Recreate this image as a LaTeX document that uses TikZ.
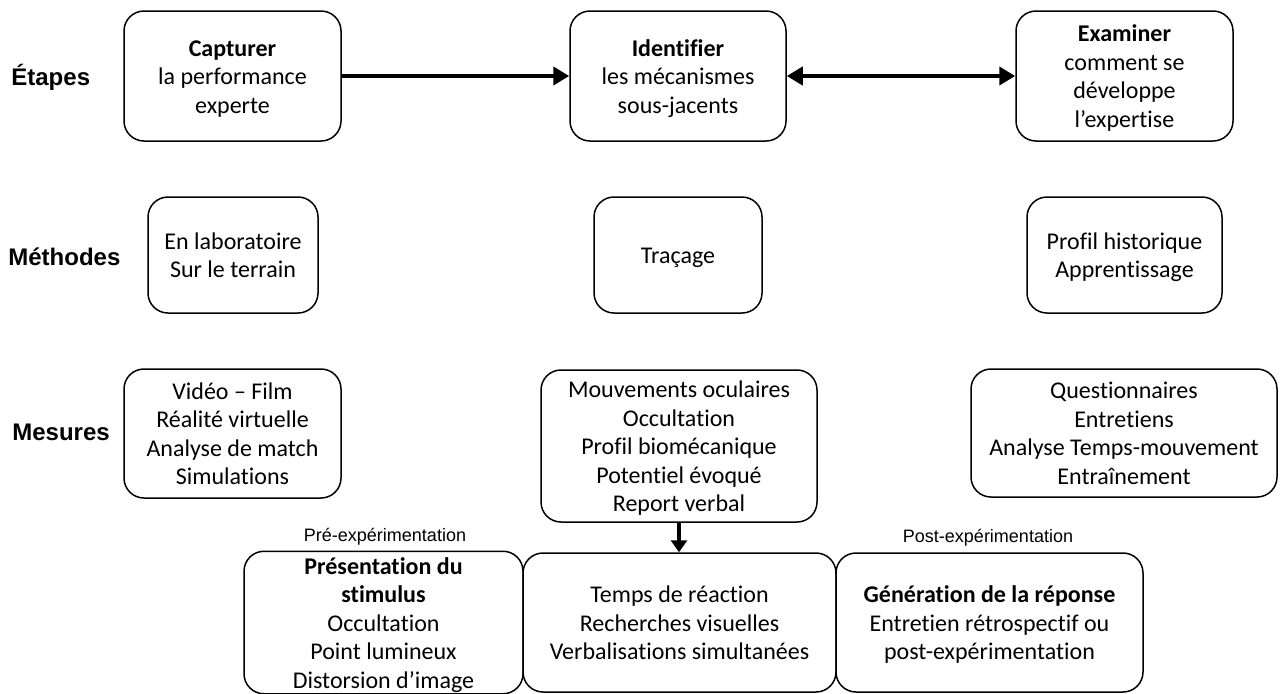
\documentclass[tikz,border=0pt]{standalone}
\usepackage{fontspec}
\setmainfont{Carlito}[Ligatures=NoCommon]
\newfontfamily\arialfont{Liberation Sans}
\usetikzlibrary{arrows.meta}

% centred stack of lines, set a little lower inside its box
\newcommand\boxlines[1]{\raisebox{-1.5pt}[\height][\depth]{\begin{tabular}{@{}c@{}}#1\end{tabular}}}

\begin{document}
\begin{tikzpicture}[x=0.5pt,y=-0.5pt,
  box/.style 2 args={draw, line width=0.75pt, rounded corners=10pt,
    inner sep=0pt, minimum width=#1*0.5pt, minimum height=#2*0.5pt,
    font=\fontsize{12}{14.25}\selectfont},
  rowlabel/.style={anchor=west, inner sep=0pt,
    font=\arialfont\bfseries\fontsize{12}{14}\selectfont},
  phase/.style={inner sep=0pt, font=\arialfont\fontsize{9}{11}\selectfont},
  flowarrow/.style={line width=2.4pt, -{Triangle[length=8pt,width=9pt]}},
  twowayarrow/.style={line width=2.4pt, {Triangle[length=8pt,width=9pt]}-{Triangle[length=8pt,width=9pt]}},
  downarrow/.style={line width=1.75pt, -{Triangle[length=6pt,width=8pt]}}
]
\useasboundingbox (0,0) rectangle (1280,693);

% row labels
\node[rowlabel] (etapes)   at (11,77)  {Étapes};
\node[rowlabel] (methodes) at (8,257)  {Méthodes};
\node[rowlabel] (mesures)  at (12,432) {Mesures};

% stages
\node[box={217}{130}] (cap) at (232.5,76) {\boxlines{\textbf{Capturer}\\la performance\\experte}};
\node[box={216}{130}] (ide) at (678,76) {\boxlines{\textbf{Identifier}\\les mécanismes\\sous-jacents}};
\node[box={217}{130}] (exa) at (1124.5,76) {\boxlines{\textbf{Examiner}\\comment se\\développe\\l’expertise}};

% methods
\node[box={170}{116}] (lab) at (233,255) {\boxlines{En laboratoire\\Sur le terrain}};
\node[box={168}{116}] (tra) at (678,255) {\boxlines{Traçage}};
\node[box={195}{116}] (his) at (1124.5,255) {\boxlines{Profil historique\\Apprentissage}};

% measures
\node[box={217}{129}] (vid) at (232.5,433.5) {\boxlines{Vidéo – Film\\Réalité virtuelle\\Analyse de match\\Simulations}};
\node[box={276}{152}] (mou) at (679,446) {\boxlines{Mouvements oculaires\\Occultation\\Profil biomécanique\\Potentiel évoqué\\Report verbal}};
\node[box={306}{128}] (que) at (1124,433) {\boxlines{Questionnaires\\Entretiens\\Analyse Temps-mouvement\\Entraînement}};

% experimental phases
\node[phase] (prelab)  at (385,537) {Pré-expérimentation};
\node[phase] (postlab) at (988,538) {Post-expérimentation};

\node[box={279}{139}] (pre) at (383.5,622.5) {\boxlines{\textbf{Présentation du}\\\textbf{stimulus}\\Occultation\\Point lumineux\\Distorsion d’image}};
\node[box={313}{139}] (tps) at (679.5,622.5) {\boxlines{Temps de réaction\\Recherches visuelles\\Verbalisations simultanées}};
\node[box={307}{139}] (gen) at (989.5,622.5) {\boxlines{\textbf{Génération de la réponse}\\Entretien rétrospectif ou\\post-expérimentation}};

% connectors
\draw[flowarrow] (cap.east) -- (ide.west);
\draw[twowayarrow] (ide.east) -- (exa.west);
\draw[downarrow] (mou.south) -- (mou.south |- tps.north);
\end{tikzpicture}
\end{document}
